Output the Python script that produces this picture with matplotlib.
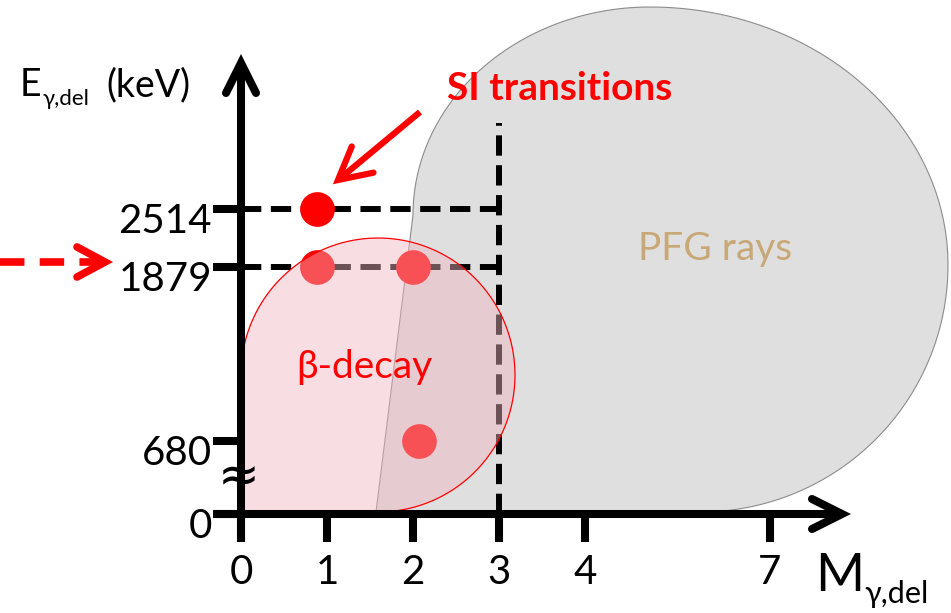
import numpy as np
import matplotlib.pyplot as plt
from matplotlib.path import Path
from matplotlib.patches import PathPatch
from matplotlib.transforms import Affine2D, ScaledTranslation

plt.rcParams['font.family'] = ['Lato', 'DejaVu Sans']

# axis ticks (schematic, non-linear axes)
m_ticks = [0, 1, 2, 3, 4, 7]
e_ticks = [0, 680, 1879, 2514]
e_labels = ['0', '680', '1879', '2514']

# gamma transitions seen in the picture
dot_m = [0.88, 0.88, 2.0, 2.07]
dot_e = [2514, 1879, 1879, 680]

# dashed guide lines
guide_e = [2514, 1879]
guide_m = 3

W, H = 951, 613


def pw(v, xp, fp):
    # piecewise linear with linear extrapolation at both ends
    v = np.asarray(v, dtype=float)
    out = np.interp(v, xp, fp)
    lo = (fp[1] - fp[0]) / (xp[1] - xp[0])
    hi = (fp[-1] - fp[-2]) / (xp[-1] - xp[-2])
    out = np.where(v < xp[0], fp[0] + (v - xp[0]) * lo, out)
    out = np.where(v > xp[-1], fp[-1] + (v - xp[-1]) * hi, out)
    return out


# where the ticks sit on the canvas (pixels)
x_anchor = [0, 4, 7]
x_pix = [241, 585, 770]
y_pix = [H - 514, H - 441, H - 267, H - 209]


def fx(m):
    return pw(m, x_anchor, x_pix)


def fx_inv(p):
    return pw(p, x_pix, x_anchor)


def fy(e):
    return pw(e, e_ticks, y_pix)


def fy_inv(p):
    return pw(p, y_pix, e_ticks)


fig = plt.figure(figsize=(W / 100, H / 100), dpi=100)
ax = fig.add_axes([0, 0, 1, 1])
ax.set_xscale('function', functions=(fx, fx_inv))
ax.set_yscale('function', functions=(fy, fy_inv))
ax.set_xlim(float(fx_inv(0)), float(fx_inv(W)))
ax.set_ylim(float(fy_inv(0)), float(fy_inv(H)))

# pixel space (y down) for the drawn shapes
pix = Affine2D().scale(1 / W, -1 / H).translate(0, 1) + fig.transFigure

# PFG region
t = np.linspace(np.pi, np.pi / 2, 60)
seg1 = np.c_[650 + 237 * np.cos(t), 215 - 208 * np.sin(t)]
t = np.linspace(np.pi / 2, 0, 60)
seg2 = np.c_[650 + 298 * np.cos(t), 265 - 258 * np.sin(t)]
t = np.linspace(0, -np.pi / 2, 60)
seg3 = np.c_[700 + 248 * np.cos(t), 265 - 247 * np.sin(t)]
gray = np.vstack([seg1, seg2, seg3, [[376, 512], [413, 215]]])
ax.add_patch(PathPatch(Path(gray, closed=True), transform=pix,
                       facecolor='#dfdfdf', edgecolor='#8c8c8c', lw=0.8, zorder=0.5))

# beta-decay region
t = np.linspace(np.pi, -np.pi / 2, 120)
pink = np.vstack([np.c_[378 + 137 * np.cos(t), 375 - 137 * np.sin(t)],
                  [[241, 512], [241, 375]]])
ax.add_patch(PathPatch(Path(pink, closed=True), transform=pix,
                       facecolor=(240 / 255, 182 / 255, 191 / 255, 0.45),
                       edgecolor='red', lw=0.9, zorder=2))

# dashed guides
for e in guide_e:
    ax.plot([0, guide_m], [e, e], color='black', lw=4.3, dashes=(3.4, 1.6), zorder=1)
ax.plot([guide_m, guide_m], [0, float(fy_inv(H - 123))], color='black', lw=4.3,
        dashes=(3.4, 1.6), zorder=1)

ax.plot(dot_m, dot_e, 'o', ms=25, color='red', mec='none', zorder=1.5)

# axes as arrows
for s in ['top', 'right']:
    ax.spines[s].set_visible(False)
ax.spines['left'].set_position(('data', 0))
ax.spines['bottom'].set_position(('data', 0))
ax.spines['left'].set_bounds(float(fy_inv(H - 542)), float(fy_inv(H - 63)))
ax.spines['bottom'].set_bounds(float(fx_inv(213)), float(fx_inv(842)))
for s in ['left', 'bottom']:
    ax.spines[s].set_linewidth(5.8)
    ax.spines[s].set_capstyle('butt')
    ax.spines[s].set_zorder(3)

ax.set_xticks(m_ticks, labels=[str(m) for m in m_ticks])
ax.set_yticks(e_ticks, labels=e_labels)
ax.minorticks_off()
ax.tick_params(direction='out', length=20, width=5.8, labelsize=29)
ax.tick_params(axis='y', pad=1)
ax.tick_params(axis='x', pad=9)
off = ScaledTranslation(0, -9 / 100, fig.dpi_scale_trans)
for tk in ax.yaxis.get_major_ticks():
    tk.label1.set_transform(tk.label1.get_transform() + off)


def chevron(tip, back, L=30, Wd=15, **kw):
    tip = np.array(tip, float)
    d = np.array(back, float)
    d = d / np.hypot(*d)
    n = np.array([-d[1], d[0]])
    pts = np.array([tip + L * d + Wd * n, tip, tip + L * d - Wd * n])
    ax.plot(pts[:, 0], pts[:, 1], transform=pix, solid_capstyle='round',
            solid_joinstyle='miter', zorder=4, **kw)


chevron((241, 63), (0, 1), lw=5.8, color='black')
chevron((842, 514), (-1, 0), lw=5.8, color='black')

# axis break mark
ax.text(239, 477, '≈', transform=pix, fontsize=36, ha='center', va='center',
        family='DejaVu Sans', zorder=5)

# SI arrow
ax.plot([420, 343], [112, 176], transform=pix, color='red', lw=4.5,
        solid_capstyle='butt', zorder=4)
chevron((338, 180), (82, -68), L=32, Wd=17, lw=4.5, color='red')

# incoming dashed arrow on the left
ax.plot([0, 100], [262, 262], transform=pix, color='red', lw=5.5,
        dashes=(3.2, 2.0), zorder=4)
chevron((105, 262), (-1, 0), L=28, Wd=15, lw=5.5, color='red')

# labels
ax.text(20, 96, 'E', transform=pix, fontsize=27, va='baseline')
ax.text(43, 105, 'γ,del', transform=pix, fontsize=16, va='baseline')
ax.text(106, 96, '(keV)', transform=pix, fontsize=27, va='baseline')
ax.text(815, 591, 'M', transform=pix, fontsize=38, va='baseline')
ax.text(864, 603, 'γ,del', transform=pix, fontsize=22, va='baseline')

ax.text(447, 100, 'SI transitions', transform=pix, fontsize=28, fontweight='bold',
        color='red', va='baseline')
ax.text(715, 249, 'PFG rays', transform=pix, fontsize=28, color='#c8a877',
        ha='center', va='center')
ax.text(364, 367, 'β-decay', transform=pix, fontsize=28, color='red',
        ha='center', va='center', zorder=5)

fig.savefig('out.png', dpi=100)
